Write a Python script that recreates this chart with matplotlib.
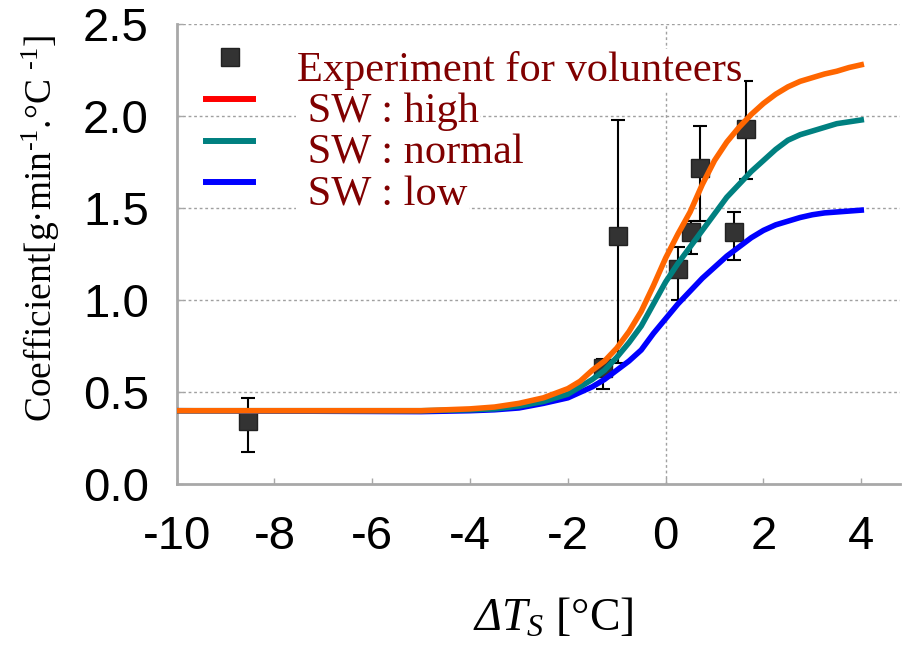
import numpy as np
import matplotlib
matplotlib.use("Agg")
import matplotlib.pyplot as plt
from matplotlib.lines import Line2D
from matplotlib.transforms import Affine2D

plt.rcParams["mathtext.fontset"] = "custom"
plt.rcParams["mathtext.rm"] = "Liberation Serif"
plt.rcParams["mathtext.it"] = "Liberation Serif:italic"
# italic capital Greek (mathtext forces \mathit Greek capitals upright)
plt.rcParams["mathtext.sf"] = "Liberation Serif:italic"
plt.rcParams["axes.unicode_minus"] = False

# Simulated coefficient curves (read at fixed dT_S steps)
dt = [-10, -5, -4, -3.5, -3, -2.5, -2, -1.75, -1.5, -1.25, -1, -0.75, -0.5, -0.25, 0,
      0.25, 0.5, 0.75, 1, 1.25, 1.5, 1.75, 2, 2.25, 2.5, 2.75, 3, 3.25, 3.5, 3.75, 4]
sw_high = [0.40, 0.40, 0.41, 0.42, 0.44, 0.47, 0.52, 0.56, 0.62, 0.67, 0.74, 0.83, 0.94, 1.08, 1.23,
           1.36, 1.48, 1.63, 1.76, 1.86, 1.94, 2.01, 2.07, 2.12, 2.16, 2.19, 2.21, 2.23, 2.245, 2.265, 2.28]
sw_normal = [0.40, 0.40, 0.405, 0.41, 0.425, 0.45, 0.49, 0.53, 0.57, 0.62, 0.69, 0.77, 0.86, 0.98, 1.10,
             1.20, 1.29, 1.38, 1.47, 1.56, 1.63, 1.70, 1.76, 1.82, 1.87, 1.90, 1.92, 1.94, 1.96, 1.97, 1.98]
sw_low = [0.40, 0.395, 0.40, 0.405, 0.415, 0.44, 0.47, 0.50, 0.53, 0.57, 0.62, 0.67, 0.73, 0.82, 0.90,
          0.98, 1.05, 1.12, 1.18, 1.24, 1.29, 1.34, 1.38, 1.41, 1.43, 1.45, 1.465, 1.475, 1.48, 1.485, 1.49]

# Volunteer experiment: mean with lower / upper bounds
exp_x = [-8.55, -1.29, -0.98, 0.245, 0.52, 0.71, 1.39, 1.64]
exp_y = [0.345, 0.63, 1.35, 1.17, 1.37, 1.72, 1.37, 1.93]
exp_lo = [0.175, 0.52, 0.66, 1.00, 1.25, 1.43, 1.22, 1.66]
exp_hi = [0.47, 0.68, 1.98, 1.29, 1.43, 1.95, 1.48, 2.19]

fig = plt.figure(figsize=(9.08, 6.48), dpi=100)
ax = fig.add_axes([0.1946, 0.2526, 0.797, 0.7099])

grid_kw = dict(color="#a0a0a0", lw=1.0, ls=(0, (2, 2)), zorder=0.5)
for yv in [0.5, 1.0, 1.5, 2.0, 2.5]:
    ax.axhline(yv, **grid_kw)
ax.axvline(0, **grid_kw)

yerr = [np.array(exp_y) - np.array(exp_lo), np.array(exp_hi) - np.array(exp_y)]
ax.errorbar(exp_x, exp_y, yerr=yerr, fmt="s", ms=12.5, mfc="#333333", mec="#222222",
            ecolor="black", elinewidth=1.5, capsize=5, capthick=1.5, zorder=2)

ax.plot(dt, sw_low, color="#0000ff", lw=4, zorder=3)
ax.plot(dt, sw_normal, color="#008080", lw=4, zorder=3.1)
ax.plot(dt, sw_high, color="#ff6600", lw=4, zorder=3.2)

ax.set_xlim(-10, 4.8)
ax.set_ylim(0, 2.5)
ax.set_xticks([-10, -8, -6, -4, -2, 0, 2, 4])
ax.set_yticks([0, 0.5, 1.0, 1.5, 2.0, 2.5])
ax.set_yticklabels(["0.0", "0.5", "1.0", "1.5", "2.0", "2.5"])

for side in ["top", "right"]:
    ax.spines[side].set_visible(False)
for side in ["left", "bottom"]:
    ax.spines[side].set_color("#a8a8a8")
    ax.spines[side].set_linewidth(2)

ax.tick_params(axis="both", direction="in", length=4, width=1, color="#a8a8a8",
               labelsize=34)
ax.tick_params(axis="x", pad=22)
ax.tick_params(axis="y", pad=20)
for lab in ax.get_xticklabels() + ax.get_yticklabels():
    lab.set_fontfamily("Liberation Sans")

ax.set_xlabel(r"$\mathsf{Δ}\mathit{T_S}$ [°C]", fontsize=33, family="Liberation Serif", va="top")
ax.xaxis.set_label_coords(0.52, -0.245)
ax.set_ylabel(r"Coefficient[g·min$^{\text{-1}}$.°C $^{\text{-1}}$]", fontsize=27,
              family="Liberation Serif")
ax.yaxis.set_label_coords(-0.158, 0.556)

handles = [
    Line2D([], [], marker="s", ls="none", ms=13, mfc="#333333", mec="#222222"),
    Line2D([], [], color="#ff0000", lw=4.3),
    Line2D([], [], color="#008080", lw=4.3),
    Line2D([], [], color="#0000ff", lw=4.3),
]
labels = ["Experiment for volunteers", " SW : high", " SW : normal", " SW : low"]
leg = ax.legend(handles, labels, loc="upper left", bbox_to_anchor=(0.041, 0.943),
                frameon=False, handlelength=1.1, handletextpad=1.04,
                labelspacing=0.07, borderaxespad=0, borderpad=0,
                prop={"family": "Liberation Serif", "size": 30.5})
for t in leg.get_texts():
    t.set_color("#800000")
    t.set_bbox(dict(facecolor="white", edgecolor="none", pad=1))
# handles sit a little higher than the label text
for h in leg.legend_handles:
    h.set_transform(Affine2D().translate(0, 6) + h.get_transform())
leg.set_zorder(2.5)

fig.savefig("out.png", dpi=100)
